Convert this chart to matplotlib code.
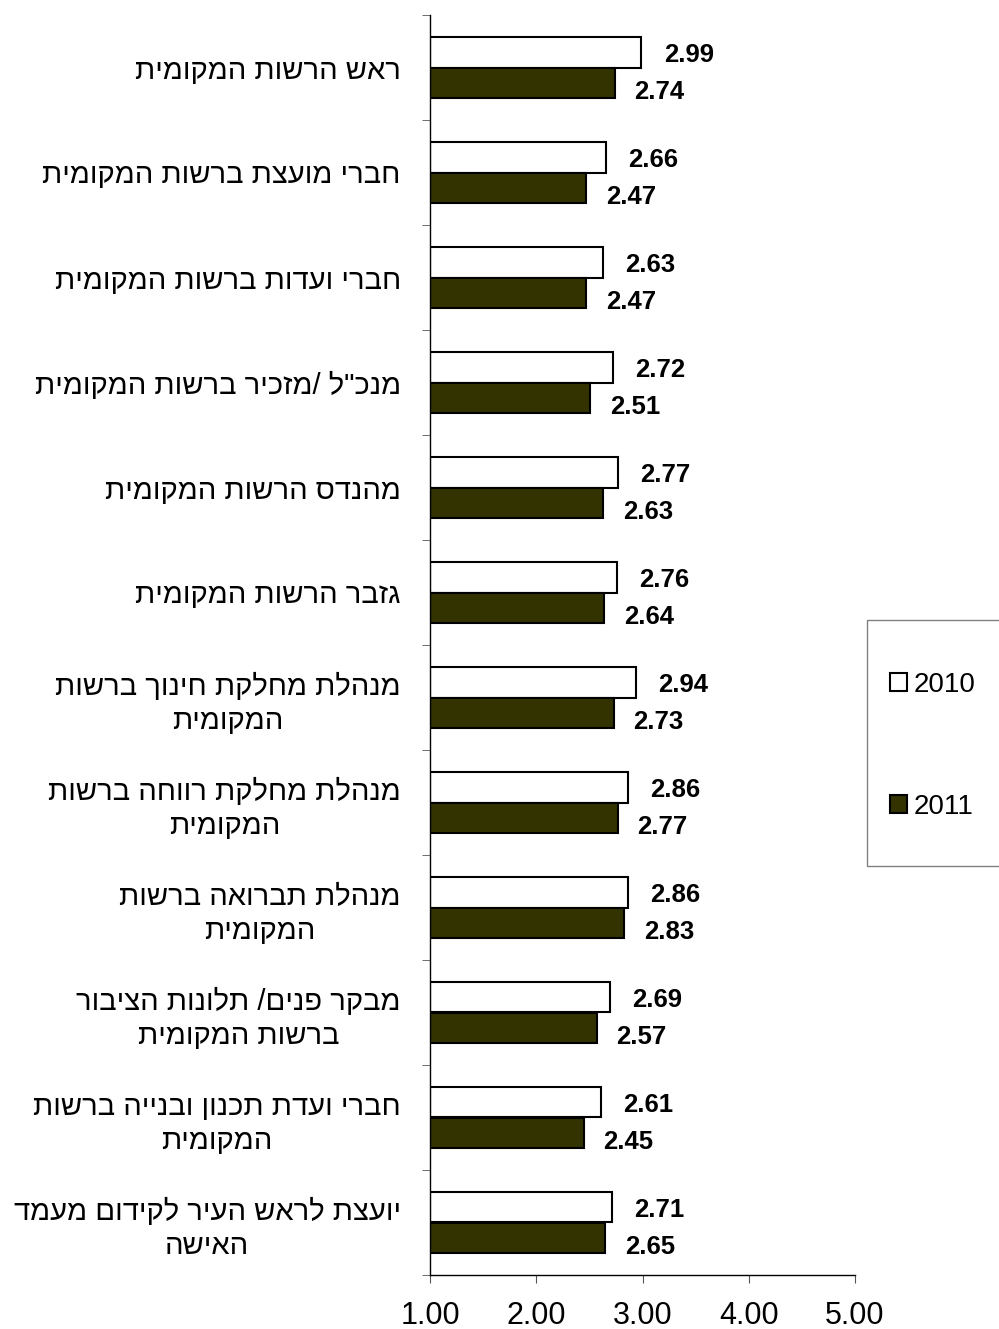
import matplotlib
matplotlib.use("Agg")
import matplotlib.pyplot as plt
import numpy as np
from matplotlib.patches import Patch, Rectangle

plt.rcParams['font.family'] = ['Liberation Sans', 'DejaVu Sans']

categories = [
    'ראש הרשות המקומית',
    'חברי מועצת ברשות המקומית',
    'חברי ועדות ברשות המקומית',
    'מנכ"ל /מזכיר ברשות המקומית',
    'מהנדס הרשות המקומית',
    'גזבר הרשות המקומית',
    'מנהלת מחלקת חינוך ברשות\nהמקומית',
    'מנהלת מחלקת רווחה ברשות\nהמקומית',
    'מנהלת תברואה ברשות\nהמקומית',
    'מבקר פנים/ תלונות הציבור\nברשות המקומית',
    'חברי ועדת תכנון ובנייה ברשות\nהמקומית',
    'יועצת לראש העיר לקידום מעמד\nהאישה',
]
v2010 = [2.99, 2.66, 2.63, 2.72, 2.77, 2.76, 2.94, 2.86, 2.86, 2.69, 2.61, 2.71]
v2011 = [2.74, 2.47, 2.47, 2.51, 2.63, 2.64, 2.73, 2.77, 2.83, 2.57, 2.45, 2.65]
series_names = ['2010', '2011']
xticks = [1, 2, 3, 4, 5]


def rtl(s):
    # matplotlib has no bidi support: flip every line for display
    return '\n'.join(line[::-1] for line in s.split('\n'))


dark = '#333300'
fig = plt.figure(figsize=(9.99, 13.29), dpi=100)
ax = fig.add_axes([430 / 999, 1 - 1275 / 1329, 425 / 999, 1260 / 1329])

y = np.arange(len(categories))
h = 0.286
xmin = xticks[0]
b1 = ax.barh(y - h / 2, np.array(v2010) - xmin, left=xmin, height=h,
             color='white', edgecolor='black', linewidth=1.5)
b2 = ax.barh(y + h / 2, np.array(v2011) - xmin, left=xmin, height=h,
             color=dark, edgecolor='black', linewidth=1.5)

for yy, v in zip(y - h / 2, v2010):
    ax.annotate('%.2f' % v, (v, yy), xytext=(16, -2), textcoords='offset points',
                ha='left', va='center', fontsize=18.5, fontweight='bold')
for yy, v in zip(y + h / 2, v2011):
    ax.annotate('%.2f' % v, (v, yy), xytext=(14, -7), textcoords='offset points',
                ha='left', va='center', fontsize=18.5, fontweight='bold')

ax.set_xlim(xticks[0], xticks[-1])
ax.set_ylim(len(categories) - 0.5, -0.5)
ax.set_xticks(xticks)
ax.set_xticklabels(['%.2f' % t for t in xticks], fontsize=22)
ax.set_yticks(y)
ax.set_yticklabels([rtl(c) for c in categories], fontsize=21,
                   ha='right', multialignment='center', linespacing=1.3)
ax.set_yticks(np.arange(len(categories) + 1) - 0.5, minor=True)
ax.tick_params(axis='y', which='major', length=0, pad=21)
ax.tick_params(axis='y', which='minor', length=6, color='#555555')
ax.tick_params(axis='x', length=6, color='#555555', pad=13)
for s in ['top', 'right']:
    ax.spines[s].set_visible(False)
for s in ['left', 'bottom']:
    ax.spines[s].set_linewidth(1.0)

# legend frame runs off the right edge like in the source
fig.patches.append(Rectangle((867 / 999, 1 - 866 / 1329), 150 / 999, 246 / 1329,
                             transform=fig.transFigure, facecolor='white',
                             edgecolor='#808080', linewidth=1.0, clip_on=False))
handles = [Patch(facecolor='white', edgecolor='black', linewidth=1.5),
           Patch(facecolor=dark, edgecolor='black', linewidth=1.5)]
fig.legend(handles, series_names, loc='upper left',
           bbox_to_anchor=(890 / 999, 1 - 672 / 1329), frameon=False,
           fontsize=20, borderpad=0, borderaxespad=0, handlelength=0.6,
           handleheight=0.6, handletextpad=0.25, labelspacing=3.45)

fig.savefig('out.png', dpi=100)
